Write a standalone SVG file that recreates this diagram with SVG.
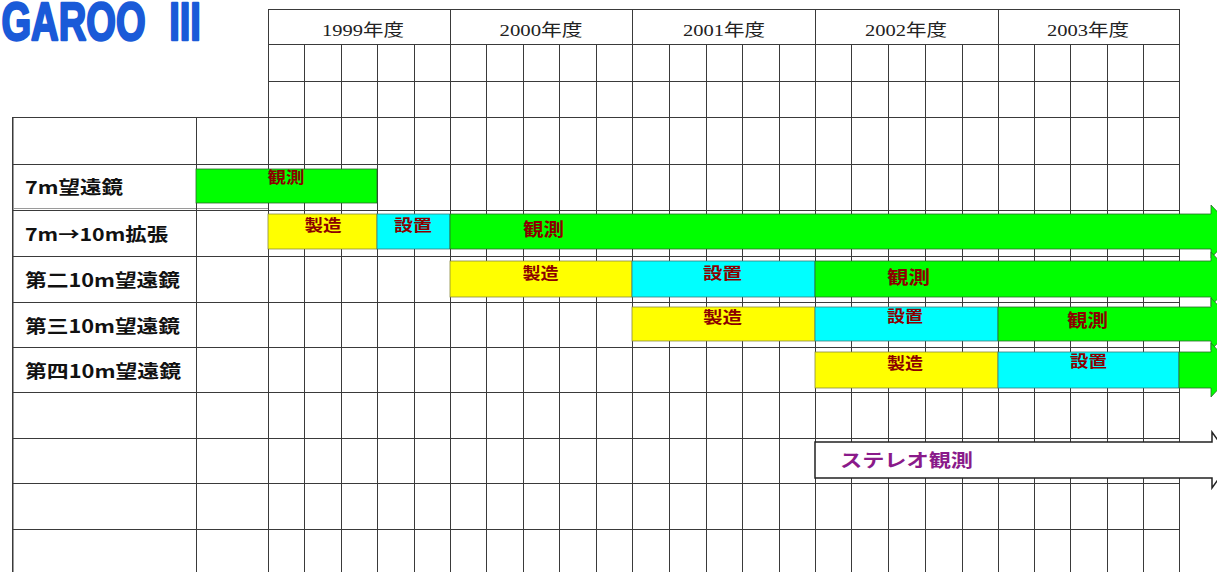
<svg xmlns="http://www.w3.org/2000/svg" width="1217" height="572" viewBox="0 0 1217 572">
<style>
.g{stroke:#3a3a3a;stroke-width:1;fill:none;shape-rendering:crispEdges}
.gl{stroke:#9a9a9a;stroke-width:1;fill:none;shape-rendering:crispEdges}
.yr{font-family:"Liberation Serif","Noto Sans CJK JP",serif;font-size:17px;fill:#222;text-anchor:middle}
.lb{font-family:"Noto Sans CJK JP",sans-serif;font-weight:bold;font-size:18px;fill:#111}
.bt{font-family:"Noto Sans CJK JP",sans-serif;font-weight:bold;font-size:16px;fill:#8b0000;text-anchor:middle}
.bb{font-size:18px}
.grn{fill:#00ff00;stroke:#2a6a2a;stroke-width:0.8}
.yel{fill:#ffff00;stroke:#8a8a40;stroke-width:0.8}
.cyn{fill:#00ffff;stroke:#3a7a7a;stroke-width:0.8}
.wht{fill:#ffffff;stroke:#222;stroke-width:1.5}
.title{font-family:"Liberation Sans",sans-serif;font-weight:bold;font-size:53px;fill:#1a5ad8;stroke:#1a5ad8;stroke-width:2.4;stroke-linejoin:round;word-spacing:18px}
</style>
<rect x="0" y="0" width="1217" height="572" fill="#ffffff"/>
<text class="title" x="2" y="40" transform="scale(0.72,1)">GAROO III</text>

<g id="grid">
  <path class="gl" d="M12.5 117V572M13.5 117V572M12 208.5H268M12 210.5H268"/>
  <path class="g" d="M268 9.5H1179.5M268 44.5H1179M268 81.5H1179M12 117.5H1179M12 164.5H1179M12 210.5H1179M12 256.5H1179M12 302.5H1179M12 347.5H1179M12 392.5H1179M12 438.5H1179M12 483.5H1179M12 529.5H1179"/>
  <path class="g" d="M12.5 117V572M196.5 117V572M268.5 9V572M450.5 9V572M632.5 9V572M815.5 9V572M998.5 9V572M1179.5 9V572"/>
  <path class="g" d="M304.5 44V572M341.5 44V572M377.5 44V572M414.5 44V572M486.5 44V572M523.5 44V572M559.5 44V572M596.5 44V572M669.5 44V572M706.5 44V572M742.5 44V572M779.5 44V572M851.5 44V572M888.5 44V572M925.5 44V572M962.5 44V572M1034.5 44V572M1070.5 44V572M1107.5 44V572M1143.5 44V572"/>
  <text class="yr" x="363" y="36" textLength="82" lengthAdjust="spacingAndGlyphs">1999年度</text>
  <text class="yr" x="541" y="36" textLength="83" lengthAdjust="spacingAndGlyphs">2000年度</text>
  <text class="yr" x="724" y="36" textLength="82" lengthAdjust="spacingAndGlyphs">2001年度</text>
  <text class="yr" x="906" y="36" textLength="82" lengthAdjust="spacingAndGlyphs">2002年度</text>
  <text class="yr" x="1088" y="36" textLength="82" lengthAdjust="spacingAndGlyphs">2003年度</text>
</g>

<g id="row-labels">
  <text class="lb" x="25" y="194" textLength="98" lengthAdjust="spacingAndGlyphs">7m望遠鏡</text>
  <text class="lb" x="25" y="241" textLength="143" lengthAdjust="spacingAndGlyphs">7m→10m拡張</text>
  <text class="lb" x="25" y="287" textLength="155" lengthAdjust="spacingAndGlyphs">第二10m望遠鏡</text>
  <text class="lb" x="25" y="333" textLength="155" lengthAdjust="spacingAndGlyphs">第三10m望遠鏡</text>
  <text class="lb" x="25" y="378" textLength="156" lengthAdjust="spacingAndGlyphs">第四10m望遠鏡</text>
</g>

<g id="row1-7m">
  <rect class="grn" x="196" y="169" width="181" height="34"/>
  <text class="bt" x="286" y="183" textLength="37" lengthAdjust="spacingAndGlyphs">観測</text>
</g>

<g id="row2-expand">
  <rect class="yel" x="268" y="214" width="109" height="35"/>
  <text class="bt" x="323" y="231" textLength="37" lengthAdjust="spacingAndGlyphs">製造</text>
  <rect class="cyn" x="377" y="214" width="73" height="35"/>
  <text class="bt" x="413" y="231" textLength="38" lengthAdjust="spacingAndGlyphs">設置</text>
  <polygon class="grn" points="450,214 1211,214 1211,205 1236,231.5 1211,258 1211,249 450,249"/>
  <text class="bt bb" x="543.5" y="236" textLength="41" lengthAdjust="spacingAndGlyphs">観測</text>
</g>

<g id="row3-second">
  <rect class="yel" x="450" y="261" width="182" height="36"/>
  <text class="bt" x="540.5" y="279" textLength="36" lengthAdjust="spacingAndGlyphs">製造</text>
  <rect class="cyn" x="632" y="261" width="183" height="36"/>
  <text class="bt" x="722.5" y="279" textLength="39" lengthAdjust="spacingAndGlyphs">設置</text>
  <polygon class="grn" points="815,261 1211,261 1211,252 1236,279 1211,306 1211,297 815,297"/>
  <text class="bt bb" x="908.5" y="284" textLength="43" lengthAdjust="spacingAndGlyphs">観測</text>
</g>

<g id="row4-third">
  <rect class="yel" x="632" y="307" width="183" height="34"/>
  <text class="bt" x="722.5" y="323" textLength="39" lengthAdjust="spacingAndGlyphs">製造</text>
  <rect class="cyn" x="815" y="307" width="183" height="34"/>
  <text class="bt" x="905" y="322" textLength="36" lengthAdjust="spacingAndGlyphs">設置</text>
  <polygon class="grn" points="998,307 1211,307 1211,298 1236,324 1211,350 1211,341 998,341"/>
  <text class="bt bb" x="1087.5" y="327" textLength="41" lengthAdjust="spacingAndGlyphs">観測</text>
</g>

<g id="row5-fourth">
  <rect class="yel" x="815" y="352" width="183" height="36"/>
  <text class="bt" x="905" y="369" textLength="36" lengthAdjust="spacingAndGlyphs">製造</text>
  <rect class="cyn" x="998" y="352" width="181" height="36"/>
  <text class="bt" x="1088.5" y="367" textLength="37" lengthAdjust="spacingAndGlyphs">設置</text>
  <polygon class="grn" points="1179,352 1211,352 1211,343 1236,370 1211,397 1211,388 1179,388"/>
</g>

<g id="row7-stereo">
  <polygon class="wht" points="815,442 1212,442 1212,432 1232,460 1212,488 1212,478 815,478"/>
  <text x="840" y="467" textLength="133" lengthAdjust="spacingAndGlyphs" style="font-family:'Noto Sans CJK JP',sans-serif;font-weight:bold;font-size:18px;fill:#8a1a8a">ステレオ観測</text>
</g>

<g id="connectors"></g>
</svg>
